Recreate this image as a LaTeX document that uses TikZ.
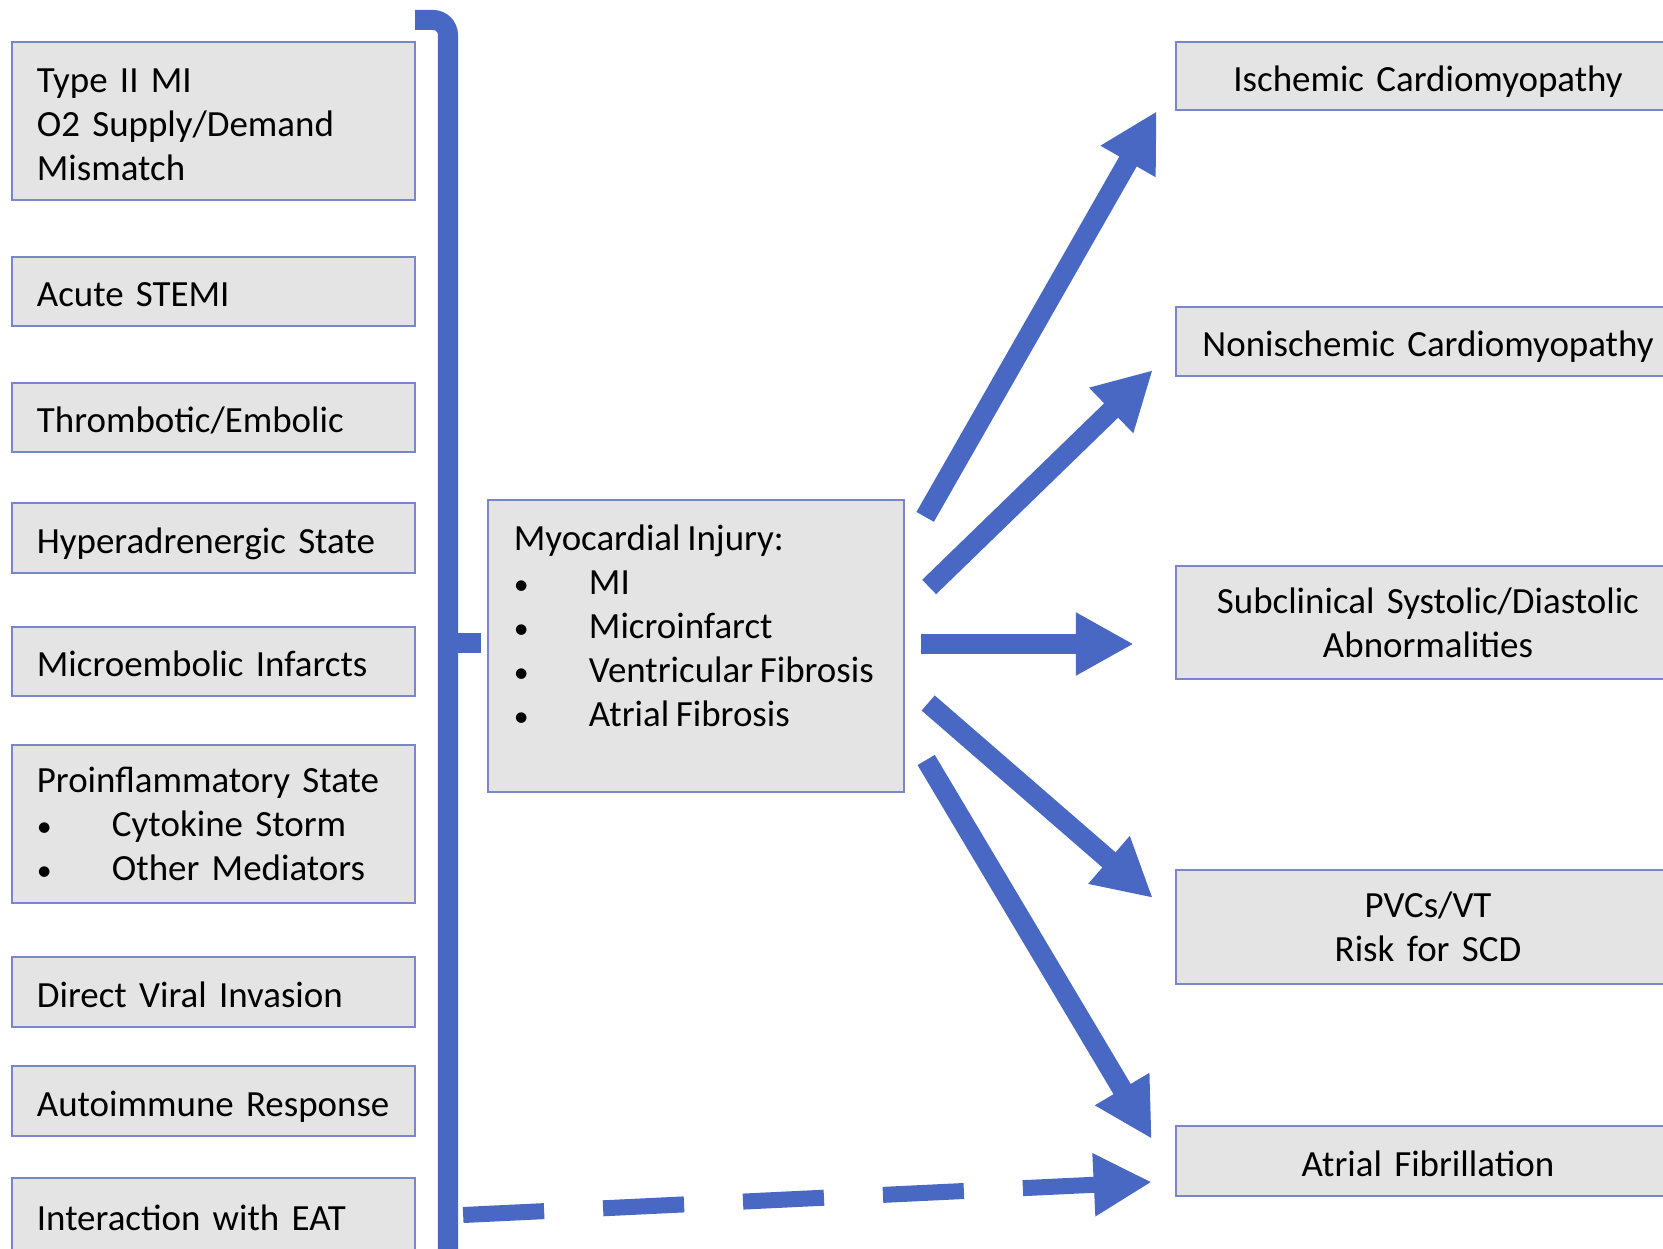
\documentclass[tikz,border=0pt]{standalone}
\usepackage{fontspec}
\setmainfont[WordSpace=0.8]{Carlito}
\usetikzlibrary{arrows.meta}
\definecolor{box-fill}{RGB}{228,228,228}
\definecolor{box-line}{RGB}{122,134,200}
\definecolor{arrow-blue}{RGB}{72,104,196}
\newcommand{\bul}[1]{\makebox[0.75cm][l]{\fontsize{8.5pt}{8.5pt}\selectfont\textbullet}#1}
\tikzset{
    base-box/.style = {draw=box-line, fill=box-fill, line width=0.6pt, rectangle, inner ysep=0pt, font=\fontsize{10.5pt}{12.5pt}\selectfont},
    cause-box/.style = {base-box, text width=3.53cm, align=left, inner xsep=0.25cm, minimum height=#1},
    cause-box/.default = 0.69cm,
    outcome-box/.style = {base-box, text width=4.8cm, align=center, inner xsep=0.12cm, minimum height=#1},
    outcome-box/.default = 0.69cm,
    one-line/.style = {text height=0.32cm, text depth=0.02cm},
    injury-box/.style = {base-box, inner xsep=0.26cm, inner ysep=0.13cm},
    flow-arrow/.style = {draw=arrow-blue, line width=0.2cm, -{Triangle[length=0.58cm, width=0.59cm]}},
    bracket-line/.style = {draw=arrow-blue, line width=0.2cm, rounded corners=0.15cm},
}

\begin{document}
\begin{tikzpicture}[x=0.01cm, y=-0.01cm]
\path[use as bounding box, clip] (0,0) rectangle (1663,1249);
\fill[white] (0,0) rectangle (1663,1249);

% causes
\node[cause-box=1.58cm] (t2mi) at (213.5,121) {\strut Type II MI\\ O2 Supply/Demand\\ Mismatch};
\node[cause-box, one-line] (stemi) at (213.5,291.5) {Acute STEMI};
\node[cause-box, one-line] (thromb) at (213.5,417.5) {Thrombotic/Embolic};
\node[cause-box=0.7cm, one-line] (hyper) at (213.5,538) {Hyperadrenergic State};
\node[cause-box, one-line] (microemb) at (213.5,661.5) {Microembolic Infarcts};
\node[cause-box=1.58cm] (proinfl) at (213.5,824) {Proinflammatory State\\ \bul{Cytokine Storm}\\ \bul{Other Mediators}};
\node[cause-box=0.7cm, one-line] (viral) at (213.5,992) {Direct Viral Invasion};
\node[cause-box=0.7cm, one-line] (autoimm) at (213.5,1101) {Autoimmune Response};
\node[cause-box=0.78cm, text height=0.29cm, text depth=0.02cm] (eat) at (213.5,1217) {Interaction with EAT};

% injury
\node[injury-box] (mid) at (696,646) {\begin{minipage}[t][2.66cm][t]{3.64cm}
    \vspace*{0.12cm}
    Myocardial Injury:\\ \bul{MI}\\ \bul{Microinfarct}\\ \bul{Ventricular Fibrosis}\\ \bul{Atrial Fibrosis}
\end{minipage}};

% outcomes
\node[outcome-box=0.68cm, one-line] (isch) at (1428,76) {Ischemic Cardiomyopathy};
\node[outcome-box, one-line] (nonisch) at (1428,341.5) {Nonischemic Cardiomyopathy};
\node[outcome-box=1.13cm] (subclin) at (1428,622.5) {Subclinical Systolic/Diastolic\\ Abnormalities};
\node[outcome-box=1.14cm] (pvc) at (1428,927) {PVCs/VT\\ Risk for SCD};
\node[outcome-box=0.7cm, one-line] (afib) at (1428,1161) {Atrial Fibrillation};

% bracket
\coordinate (brace-top) at (415,20);
\coordinate (brace-foot) at (448,1270);
\coordinate (brace-mid) at (448,643);
\draw[bracket-line] (brace-top) -| (brace-foot);
\draw[bracket-line] (brace-mid) -- ([shift={(-6,-3)}]mid.west);

% arrows
\draw[flow-arrow] ([shift={(20,18)}]mid.north east) -- ([shift={(-18,0)}]isch.south west);
\draw[flow-arrow] ([shift={(24,-59)}]mid.east) -- ([shift={(-22,-7)}]nonisch.south west);
\draw[flow-arrow] ([shift={(16,-2)}]mid.east) -- ([shift={(-41,21.5)}]subclin.west);
\draw[flow-arrow] ([shift={(23,57)}]mid.east) -- ([shift={(-22,29)}]pvc.north west);
\draw[flow-arrow] ([shift={(21,114)}]mid.east) -- ([shift={(-23,14)}]afib.north west);
\draw[flow-arrow, line width=0.16cm, dash pattern=on 0.81cm off 0.59cm] ([shift={(47,-2)}]eat.east) -- ([shift={(-23,21)}]afib.west);
\end{tikzpicture}
\end{document}
